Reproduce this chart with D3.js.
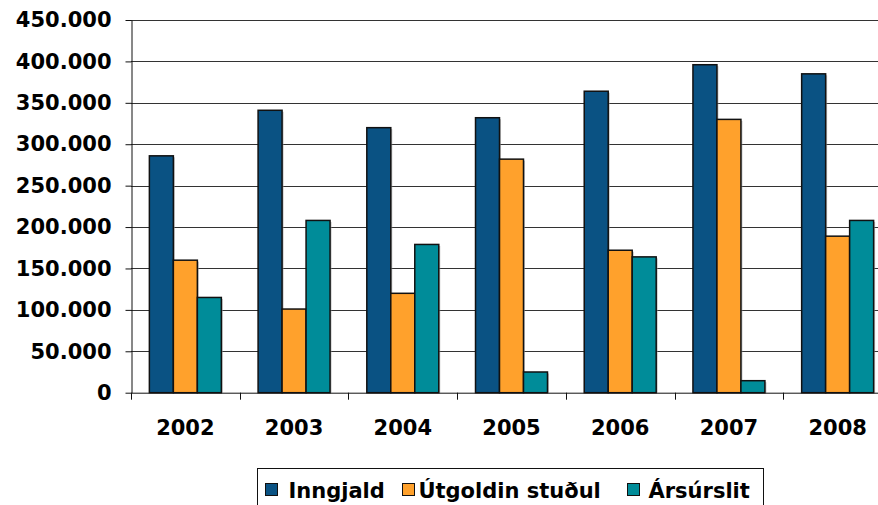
<!DOCTYPE html>
<html>
<head>
<meta charset="utf-8">
<script src="https://cdn.jsdelivr.net/npm/d3@7"></script>
<style>
  body { margin: 0; background: #fff; }
  svg { display: block; font-family: "DejaVu Sans", Verdana, sans-serif; font-weight: bold; }
</style>
</head>
<body>
<svg id="chart"></svg>
<script>
const years = ["2002", "2003", "2004", "2005", "2006", "2007", "2008"];
const seriesNames = ["Inngjald", "Útgoldin stuðul", "Ársúrslit"];
const inngjald = [286000, 341000, 320000, 332000, 364000, 396000, 385000];
const utgoldin = [160000, 101000, 120000, 282000, 172000, 330000, 189000];
const arsurslit = [115000, 208000, 179000, 25000, 164000, 14500, 208000];
const yTicks = [0, 50000, 100000, 150000, 200000, 250000, 300000, 350000, 400000, 450000];
const colors = ["#0a5283", "#ffa12c", "#008c99"];

const width = 878;
const height = 505;
const margin = { top: 20, right: -14, bottom: 112.3, left: 131 };

const svg = d3.select("#chart").attr("width", width).attr("height", height);

const isLocale = d3.formatLocale({ decimal: ",", thousands: ".", grouping: [3], currency: ["", ""] });
const fmt = isLocale.format(",");

const yScale = d3.scaleLinear()
  .domain([0, 450000])
  .range([height - margin.bottom, margin.top]);

const xScale = d3.scaleBand()
  .domain(years)
  .range([margin.left, width - margin.right])
  .paddingInner(0)
  .paddingOuter(0);

const x1 = d3.scaleBand()
  .domain(seriesNames)
  .range([xScale.bandwidth() * 0.169, xScale.bandwidth() * 0.831])
  .padding(0);

const rows = years.map((y, i) => ({
  year: y,
  values: [inngjald[i], utgoldin[i], arsurslit[i]]
}));

// gridlines
svg.append("g")
  .selectAll("line")
  .data(yTicks.slice(1))
  .join("line")
  .attr("x1", margin.left)
  .attr("x2", width - margin.right)
  .attr("y1", d => Math.round(yScale(d)) + 0.5)
  .attr("y2", d => Math.round(yScale(d)) + 0.5)
  .attr("stroke", "#333")
  .attr("stroke-width", 1);

// bars
const groups = svg.append("g")
  .selectAll("g")
  .data(rows)
  .join("g")
  .attr("transform", d => `translate(${xScale(d.year)},0)`);

groups.selectAll("rect.shadow")
  .data(d => d.values.map((v, k) => ({ k, v })))
  .join("rect")
  .attr("class", "shadow")
  .attr("x", d => x1(seriesNames[d.k]) + 1.5)
  .attr("y", d => yScale(d.v) + 1.5)
  .attr("width", x1.bandwidth())
  .attr("height", d => yScale(0) - yScale(d.v) - 1.5)
  .attr("fill", "#999")
  .attr("opacity", 0.6);

groups.selectAll("rect.bar")
  .data(d => d.values.map((v, k) => ({ k, v })))
  .join("rect")
  .attr("class", "bar")
  .attr("x", d => x1(seriesNames[d.k]))
  .attr("y", d => yScale(d.v))
  .attr("width", x1.bandwidth())
  .attr("height", d => yScale(0) - yScale(d.v))
  .attr("fill", d => colors[d.k])
  .attr("stroke", "#111")
  .attr("stroke-width", 1.5);

// y axis
const yAxis = d3.axisLeft(yScale)
  .tickValues(yTicks)
  .tickFormat(fmt)
  .tickSize(6)
  .tickSizeOuter(0)
  .tickPadding(14);

svg.append("g")
  .attr("transform", `translate(${margin.left + 0.5},0)`)
  .call(yAxis)
  .call(g => g.select(".domain").attr("stroke", "#111"))
  .call(g => g.selectAll(".tick line").attr("stroke", "#111"))
  .call(g => g.selectAll("text")
    .attr("fill", "#000")
    .attr("font-size", 21)
    .attr("font-family", "DejaVu Sans, sans-serif")
    .attr("font-weight", "bold"));

// x axis
const xAxis = d3.axisBottom(xScale).tickSize(0).tickPadding(27).tickSizeOuter(0);
const xg = svg.append("g")
  .attr("transform", `translate(0,${yScale(0)})`)
  .call(xAxis);
xg.select(".domain").attr("stroke", "#111");
xg.selectAll("text")
  .attr("fill", "#000")
  .attr("font-size", 21)
  .attr("font-family", "DejaVu Sans, sans-serif")
  .attr("font-weight", "bold");
xg.selectAll("line.sep")
  .data(years)
  .join("line")
  .attr("class", "sep")
  .attr("x1", d => Math.round(xScale(d)) + 0.5)
  .attr("x2", d => Math.round(xScale(d)) + 0.5)
  .attr("y1", 0)
  .attr("y2", 7)
  .attr("stroke", "#111");

// legend
const legend = svg.append("g").attr("transform", "translate(257.5,468.5)");
legend.append("rect")
  .attr("width", 506)
  .attr("height", 40)
  .attr("fill", "#fff")
  .attr("stroke", "#111")
  .attr("stroke-width", 1);

const legendX = [8, 145, 370];
const items = legend.selectAll("g.item")
  .data(seriesNames)
  .join("g")
  .attr("class", "item")
  .attr("transform", (d, i) => `translate(${legendX[i]},0)`);

items.append("rect")
  .attr("x", 0)
  .attr("y", 15)
  .attr("width", 12)
  .attr("height", 12)
  .attr("fill", (d, i) => colors[i])
  .attr("stroke", "#111")
  .attr("stroke-width", 1);

items.append("text")
  .attr("x", (d, i) => [23, 16, 21][i])
  .attr("y", 29)
  .attr("font-size", 21)
  .attr("fill", "#000")
  .text(d => d);
</script>
</body>
</html>
